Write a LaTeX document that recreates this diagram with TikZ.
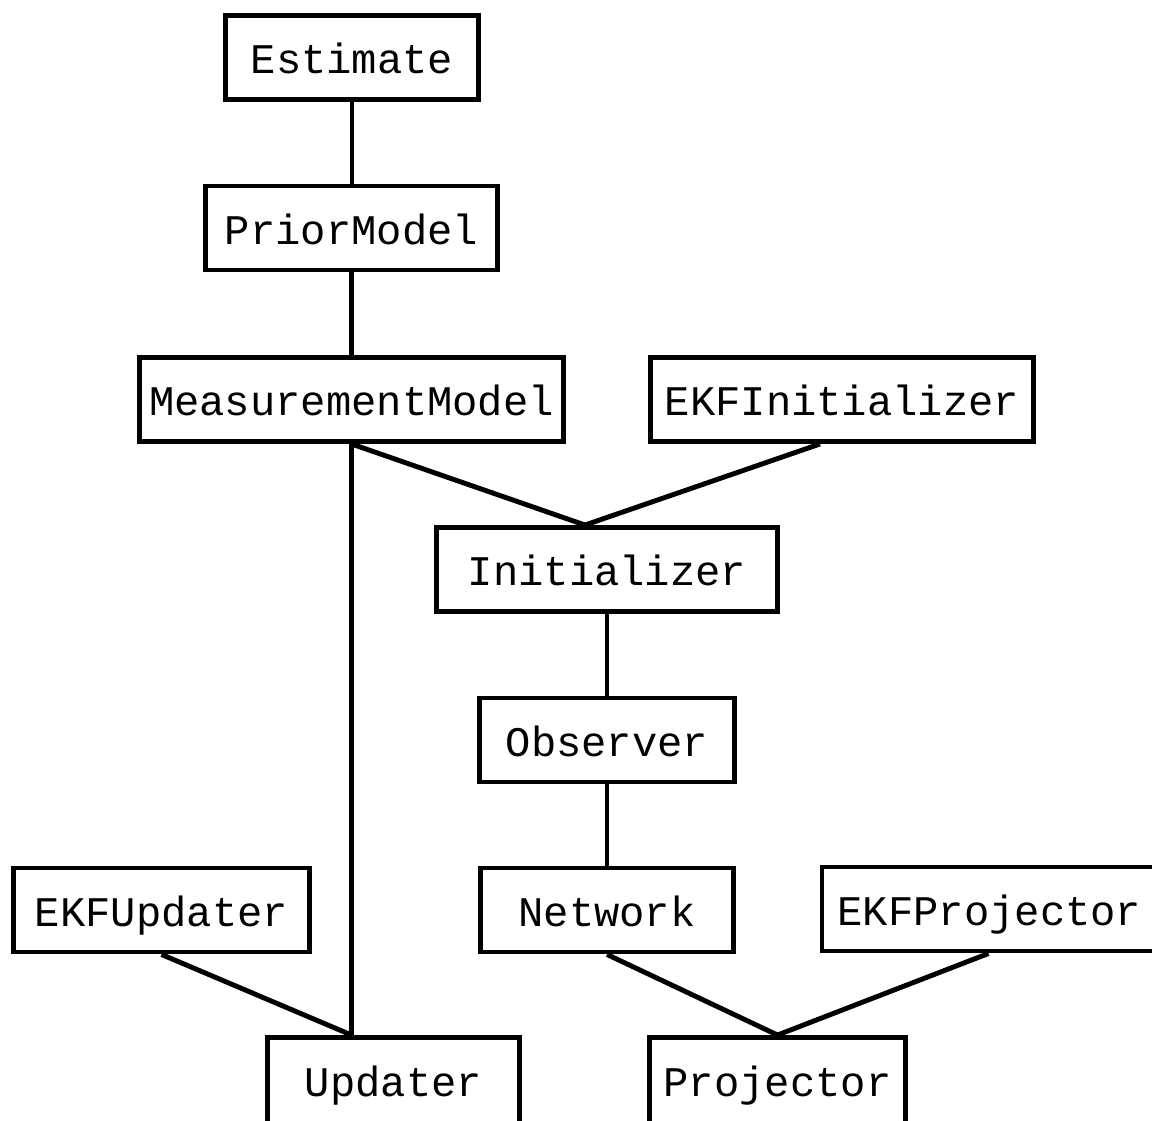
\documentclass[tikz,border=0pt]{standalone}
\usepackage{fontspec}
\setmonofont{Liberation Mono}
\usetikzlibrary{calc}
\begin{document}
\begin{tikzpicture}[x=0.02cm, y=-0.02cm,
  classbox/.style={draw=black, line width=2.8pt, rectangle, inner sep=0pt,
    minimum height=84*0.02cm, text height=0.66cm, text depth=0pt,
    font=\fontsize{24}{28}\selectfont\ttfamily},
  lowbox/.style={classbox, minimum height=94*0.02cm, text depth=0.2cm},
  link/.style={draw=black, line width=2.8pt}]
  \useasboundingbox (0,0) rectangle (1152,1121);
  \clip (0,0) rectangle (1152,1121);

  % class boxes
  \node[classbox, minimum width=253*0.02cm] (est)     at (352,57.5)   {Estimate};
  \node[classbox, minimum width=292*0.02cm] (prior)   at (351.5,228)  {PriorModel};
  \node[classbox, minimum width=424*0.02cm] (meas)    at (351.5,399.5){MeasurementModel};
  \node[classbox, minimum width=383*0.02cm] (ekfinit) at (842,399.5)  {EKFInitializer};
  \node[classbox, minimum width=341*0.02cm] (init)    at (607,569.5)  {Initializer};
  \node[classbox, minimum width=255*0.02cm] (obs)     at (607,740)    {Observer};
  \node[classbox, minimum width=296*0.02cm] (ekfupd)  at (161.5,910)  {EKFUpdater};
  \node[classbox, minimum width=253*0.02cm] (net)     at (607,910)    {Network};
  \node[classbox, minimum width=345*0.02cm] (ekfproj) at (994.5,909)  {EKFProjector\kern 0.2cm};
  \node[lowbox,   minimum width=252*0.02cm] (upd)     at (393.5,1084.5){Updater};
  \node[lowbox,   minimum width=256*0.02cm] (proj)    at (777.5,1084.5){Projector};

  % joining points on the upper edges
  \coordinate (initjoin) at ($(init.north)+(-22,0)$);
  \coordinate (updjoin)  at (meas.south |- upd.north);

  % connectors
  \draw[link] (est.south) -- (est.south |- prior.north);
  \draw[link] (prior.south) -- (prior.south |- meas.north);
  \draw[link] (meas.south) -- (initjoin);
  \draw[link] ($(ekfinit.south)+(-22,0)$) -- (initjoin);
  \draw[link] (init.south) -- (init.south |- obs.north);
  \draw[link] (obs.south) -- (obs.south |- net.north);
  \draw[link] (meas.south) -- (updjoin);
  \draw[link] (ekfupd.south) -- (updjoin);
  \draw[link] (net.south) -- (proj.north);
  \draw[link] ($(ekfproj.south)+(-6,0)$) -- (proj.north);
\end{tikzpicture}
\end{document}
